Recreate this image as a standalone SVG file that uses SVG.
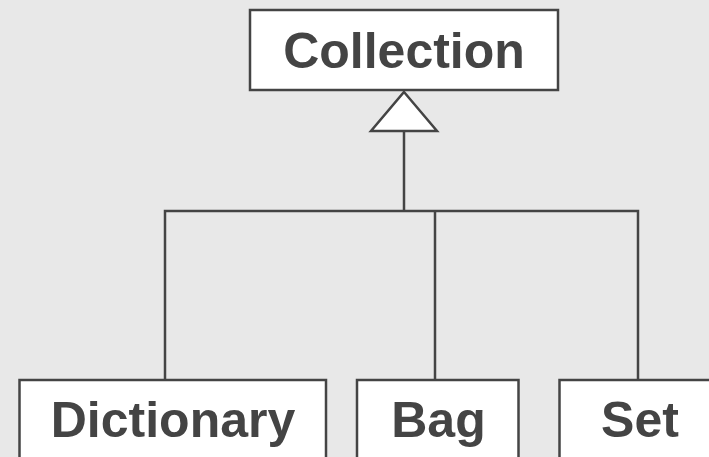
<svg xmlns="http://www.w3.org/2000/svg" width="709" height="457" viewBox="0 0 709 457">
  <style>
    .box { fill: #ffffff; stroke: #444444; stroke-width: 2.5; }
    .label { font-family: "Liberation Sans", Arial, sans-serif; font-weight: bold; font-size: 50px; fill: #444444; text-anchor: middle; }
    .wire { fill: none; stroke: #444444; stroke-width: 2.5; }
    .head { fill: #ffffff; stroke: #444444; stroke-width: 2.5; stroke-linejoin: miter; }
  </style>
  <rect x="0" y="0" width="709" height="457" fill="#e8e8e8"/>

  <g id="connectors">
    <polyline class="wire" points="165,380 165,211 638,211 638,380"/>
    <line class="wire" x1="404" y1="131" x2="404" y2="211"/>
    <line class="wire" x1="435" y1="211" x2="435" y2="380"/>
    <!-- generalization arrowhead -->
    <polygon class="head" points="404,92 437,131 371,131"/>
  </g>

  <g id="collection">
    <rect class="box" x="250" y="10" width="308" height="80"/>
    <text class="label" x="404" y="68">Collection</text>
  </g>

  <g id="dictionary">
    <rect class="box" x="19.5" y="380" width="306.5" height="100"/>
    <text class="label" x="173" y="437">Dictionary</text>
  </g>

  <g id="bag">
    <rect class="box" x="357" y="380" width="161.5" height="100"/>
    <text class="label" x="438.5" y="437">Bag</text>
  </g>

  <g id="set">
    <rect class="box" x="559.5" y="380" width="170" height="100"/>
    <text class="label" x="640" y="437">Set</text>
  </g>
</svg>
